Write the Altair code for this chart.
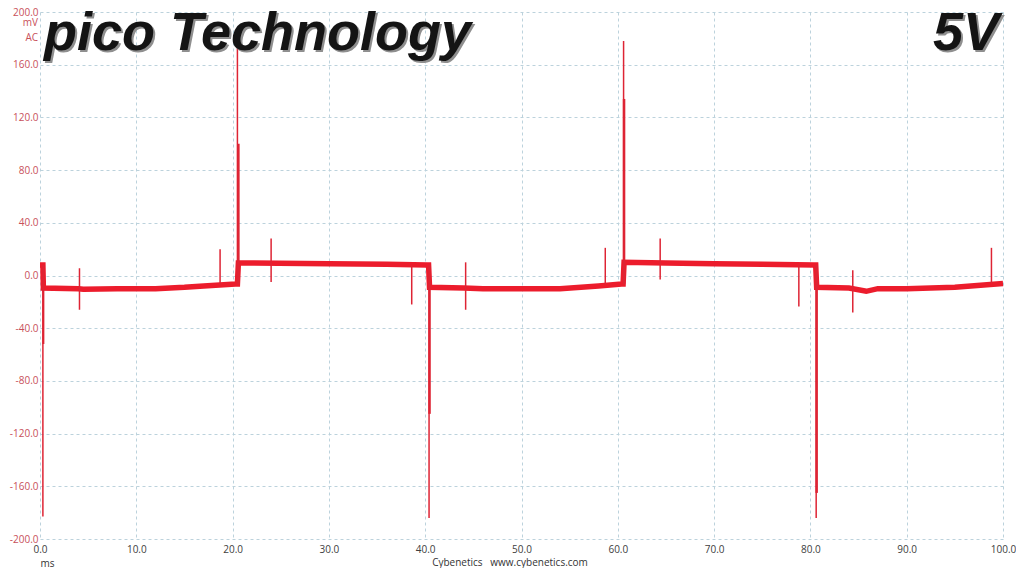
import altair as alt
import pandas as pd

# ---- data ----
# baseline trace (ms, mV), includes the step transitions
level_ms = [0.0, 0.3, 0.35, 4.0, 4.5, 8.0, 12.0, 15.0, 17.0, 20.3, 20.5, 20.6, 22.0, 30.0, 36.0, 40.2,
            40.35, 40.45, 44.0, 46.0, 50.0, 54.0, 58.0, 60.4, 60.55, 60.65, 65.0, 70.0, 75.0, 80.4,
            80.55, 80.65, 84.0, 85.8, 87.0, 90.0, 95.0, 100.0]
level_mv = [8.0, 8.0, -9.5, -10.0, -10.5, -10.0, -10.0, -9.0, -8.0, -6.5, -6.5, 9.5, 9.5, 9.0, 8.5, 8.0,
            8.0, -9.0, -9.5, -10.0, -10.0, -10.0, -8.0, -6.5, -6.5, 10.0, 9.5, 9.0, 8.5, 8.0,
            8.0, -9.0, -9.5, -12.0, -10.0, -10.0, -9.0, -6.0]

# spikes (ms, top mV, bottom mV, weight)
spike_ms = [0.3, 0.35, 4.1, 18.7, 20.5, 20.6, 24.0, 38.6, 40.4, 40.45, 44.2, 58.7, 60.6, 60.65,
            64.4, 78.8, 80.6, 80.65, 84.4, 98.8]
spike_top = [8.0, 8.0, 5.5, 20.0, 175.0, 100.0, 28.0, 8.0, 8.0, 8.0, 10.0, 21.0, 178.0, 134.0,
             28.0, 8.0, 8.0, 8.0, 4.0, 21.0]
spike_bot = [-183.0, -52.0, -26.0, -7.0, -6.5, -6.5, -5.0, -22.0, -184.0, -105.0, -26.0, -6.5, -6.5, -6.5,
             -3.0, -23.5, -184.0, -165.0, -28.0, -6.0]
spike_w = [1.5, 2.0, 1.5, 1.5, 1.5, 2.5, 1.5, 1.5, 1.5, 2.5, 1.5, 1.5, 1.5, 2.5,
           1.5, 1.5, 1.5, 2.5, 1.5, 1.5]

x_ticks = [0, 10, 20, 30, 40, 50, 60, 70, 80, 90, 100]
y_ticks = [-200, -160, -120, -80, -40, 0, 40, 80, 120, 160, 200]

title_left = "pico Technology"
title_right = "5V"
unit_lines = ["mV", "AC"]
x_unit = "ms"
credit = "Cybenetics\u00a0\u00a0 www.cybenetics.com"

W, H = 963, 527
RED = "#ec1c2c"
LABEL_RED = "#c8505a"

levels = pd.DataFrame({"ms": level_ms, "mv": level_mv, "i": list(range(len(level_ms)))})
spikes = pd.DataFrame({"ms": spike_ms, "top": spike_top, "bot": spike_bot, "w": spike_w})

xscale = alt.Scale(domain=[0, 100], nice=False, zero=False)
yscale = alt.Scale(domain=[-200, 200], nice=False, zero=False)

label_expr = "replace(format(datum.value, '.1f'), '\u2212', '-')"

xaxis = alt.Axis(values=x_ticks, labelExpr=label_expr, title=x_unit, labelFlush=False,
                 titleAnchor="start", titleAlign="left", titleBaseline="middle",
                 titleX=0, titleY=24,
                 titleFontWeight="normal", titleFontSize=10, titleColor="#333333",
                 titleFont="Open Sans", labelPadding=5, labelFontSize=10)
yaxis = alt.Axis(values=y_ticks, labelExpr=label_expr, title=None, labelFlush=False,
                 labelColor=LABEL_RED, labelPadding=2, labelFontSize=10)

base = alt.Chart(levels)

trace = base.mark_line(color=RED, strokeWidth=5.5, strokeJoin="miter", strokeCap="butt").encode(
    x=alt.X("ms:Q", scale=xscale, axis=xaxis),
    y=alt.Y("mv:Q", scale=yscale, axis=yaxis),
    order="i:Q",
)

spike_layer = alt.Chart(spikes).mark_rule(color="#de2434").encode(
    x=alt.X("ms:Q", scale=xscale),
    y=alt.Y("top:Q", scale=yscale),
    y2="bot:Q",
    strokeWidth=alt.StrokeWidth("w:Q", scale=None, legend=None),
)

txt_df = pd.DataFrame({"a": [0]})

def text(t, x, y, **kw):
    return alt.Chart(txt_df).mark_text(text=t, **kw).encode(x=alt.value(x), y=alt.value(y))

title_style = dict(font="Liberation Sans", fontSize=54, fontWeight="bold", fontStyle="italic",
                   baseline="alphabetic")

layers = [
    trace,
    spike_layer,
    text(title_left, 6, 40, align="left", color="#8f8f8f", **title_style),
    text(title_left, 4, 38, align="left", color="#141414", **title_style),
    text(title_right, 961, 40, align="right", color="#8f8f8f", **title_style),
    text(title_right, 959, 38, align="right", color="#141414", **title_style),
    text(unit_lines[0], -2, 11, align="right", baseline="middle", font="Open Sans", fontSize=10,
         color=LABEL_RED),
    text(unit_lines[1], -2, 26, align="right", baseline="middle", font="Open Sans", fontSize=10,
         color=LABEL_RED),
    text(credit, 470, 551, align="center", baseline="middle", font="Open Sans", fontSize=10,
         color="#333333"),
]

chart = alt.layer(*layers).properties(
    width=W, height=H,
    autosize=alt.AutoSizeParams(type="none"),
    padding={"left": 32, "top": 4, "right": 13, "bottom": 29},
).configure_view(stroke=None).configure_axis(
    grid=True, gridColor="#bcd2dc", gridDash=[3, 3], gridWidth=1,
    domain=False, ticks=False,
    labelFont="Open Sans", labelFontSize=10, labelColor="#404040",
)

chart.save("out.html", embed_options={"renderer": "svg", "actions": False})
